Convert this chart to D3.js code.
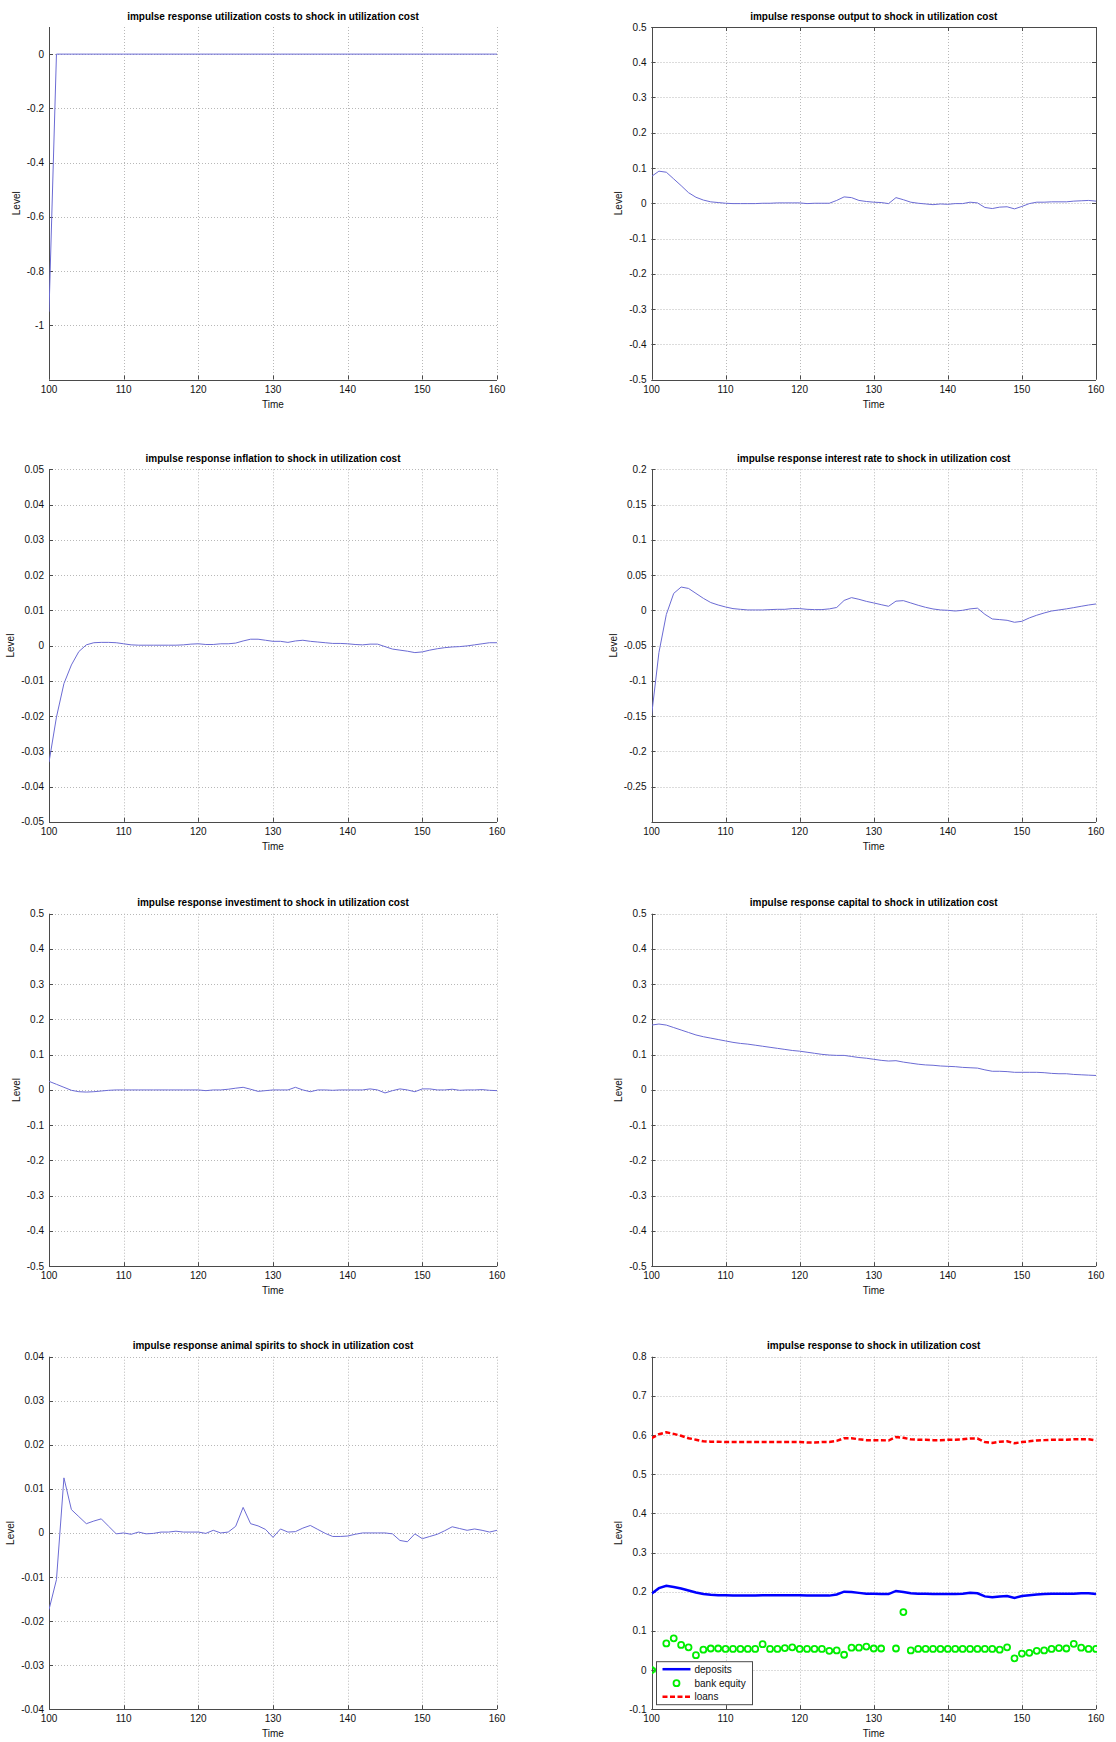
<!DOCTYPE html>
<html>
<head>
<meta charset="utf-8">
<script src="https://cdn.jsdelivr.net/npm/d3@7"></script>
<style>
  html, body { margin: 0; padding: 0; background: #fff; }
  svg { display: block; font-family: "Liberation Sans", Arial, Helvetica, sans-serif; }
</style>
</head>
<body>
<svg id="chart" width="1116" height="1742"></svg>
<script>
// ---------------- DATA ----------------
const time = [100,101,102,103,104,105,106,107,108,109,
  110,111,112,113,114,115,116,117,118,119,
  120,121,122,123,124,125,126,127,128,129,
  130,131,132,133,134,135,136,137,138,139,
  140,141,142,143,144,145,146,147,148,149,
  150,151,152,153,154,155,156,157,158,159,160];

const utilizationCosts = [-0.95,0,0,0,0,0,0,0,0,0,
  0,0,0,0,0,0,0,0,0,0,
  0,0,0,0,0,0,0,0,0,0,
  0,0,0,0,0,0,0,0,0,0,
  0,0,0,0,0,0,0,0,0,0,
  0,0,0,0,0,0,0,0,0,0,0];

const output = [0.076,0.091,0.088,0.069,0.05,0.03,0.017,0.009,0.004,0.002,
  0,-0.001,-0.001,-0.001,-0.001,0,0,0.001,0.001,0.001,
  0.001,-0.001,0,0,0,0.008,0.018,0.016,0.008,0.005,
  0.003,0.002,-0.001,0.016,0.01,0.003,0,-0.002,-0.004,-0.002,
  -0.003,-0.001,-0.001,0.003,0.001,-0.012,-0.015,-0.011,-0.01,-0.016,
  -0.009,-0.001,0.003,0.003,0.004,0.004,0.004,0.006,0.007,0.008,0.006];

const inflation = [-0.0331,-0.0203,-0.0108,-0.0055,-0.0017,0.0002,0.0008,0.0009,0.0009,0.0008,
  0.0005,0.0002,0.0001,0.0001,0.0001,0.0001,0.0001,0.0001,0.0002,0.0004,
  0.0005,0.0003,0.0003,0.0005,0.0005,0.0007,0.0013,0.0018,0.0018,0.0015,
  0.0012,0.0012,0.0009,0.0013,0.0015,0.0012,0.001,0.0008,0.0006,0.0006,
  0.0005,0.0003,0.0002,0.0004,0.0004,-0.0003,-0.001,-0.0013,-0.0016,-0.002,
  -0.0018,-0.0013,-0.0009,-0.0006,-0.0004,-0.0003,-0.0001,0.0002,0.0005,0.0008,0.0008];

const interestRate = [-0.15,-0.06,-0.006,0.024,0.033,0.031,0.024,0.017,0.011,0.0075,
  0.0047,0.0024,0.0014,0.0005,0.0005,0.0005,0.001,0.0014,0.0014,0.0024,
  0.0024,0.0014,0.001,0.001,0.002,0.004,0.014,0.018,0.0156,0.0127,
  0.0104,0.008,0.0057,0.013,0.0137,0.0104,0.0071,0.0042,0.0019,0.0005,
  0,-0.001,0,0.002,0.003,-0.0057,-0.0123,-0.0132,-0.0142,-0.017,
  -0.0156,-0.0108,-0.007,-0.0038,-0.001,0.0005,0.002,0.0038,0.0057,0.0075,0.009];

const investiment = [0.0245,0.016,0.0075,-0.001,-0.005,-0.006,-0.005,-0.003,-0.001,0,
  0,0,0,0,0,0,0,0,0,0,
  0,-0.002,0,0,0.002,0.005,0.0075,0.002,-0.004,-0.002,
  0,0,0,0.0075,0,-0.005,0,0,-0.001,0,
  0,0,0,0.003,0,-0.0085,-0.002,0.003,0,-0.005,
  0.003,0.003,0,0,0.002,-0.001,0,0,0.001,-0.001,-0.002];

const capital = [0.184,0.187,0.184,0.177,0.170,0.163,0.156,0.151,0.147,0.143,
  0.139,0.135,0.132,0.130,0.127,0.124,0.121,0.118,0.115,0.112,
  0.110,0.107,0.104,0.101,0.099,0.098,0.098,0.095,0.092,0.090,
  0.087,0.084,0.082,0.083,0.079,0.076,0.073,0.071,0.070,0.068,
  0.067,0.066,0.064,0.063,0.062,0.057,0.053,0.053,0.052,0.050,
  0.050,0.050,0.050,0.049,0.047,0.046,0.046,0.044,0.043,0.042,0.041];

const animalSpirits = [-0.0174,-0.0106,0.0125,0.0053,0.0037,0.0021,0.0027,0.0032,0.0015,-0.0002,
  0,-0.0003,0.0002,-0.0002,-0.0001,0.0002,0.0002,0.0004,0.0002,0.0002,
  0.0002,-0.0001,0.0006,0,0.0002,0.0015,0.0058,0.0021,0.0016,0.0008,
  -0.001,0.0009,0.0002,0.0003,0.0011,0.0017,0.0008,-0.0001,-0.0008,-0.0008,
  -0.0007,-0.0003,0,0,0,0,-0.0002,-0.0017,-0.002,-0.0002,
  -0.0013,-0.0008,-0.0003,0.0005,0.0014,0.001,0.0006,0.0009,0.0006,0.0002,0.0006];

const deposits = [0.195,0.209,0.215,0.212,0.208,0.203,0.198,0.194,0.192,0.191,
  0.191,0.190,0.190,0.190,0.190,0.191,0.191,0.191,0.191,0.191,
  0.191,0.190,0.190,0.190,0.190,0.193,0.200,0.199,0.197,0.195,
  0.195,0.194,0.194,0.202,0.199,0.196,0.195,0.195,0.194,0.194,
  0.194,0.194,0.195,0.197,0.196,0.188,0.186,0.188,0.189,0.184,
  0.189,0.191,0.193,0.194,0.195,0.195,0.195,0.195,0.196,0.196,0.194];

const bankEquity = [0,0,0.068,0.081,0.064,0.058,0.038,0.052,0.055,0.055,
  0.054,0.054,0.054,0.054,0.054,0.066,0.054,0.054,0.056,0.058,
  0.054,0.054,0.054,0.054,0.049,0.050,0.039,0.057,0.057,0.060,
  0.055,0.055,null,0.055,0.148,0.050,0.054,0.054,0.054,0.054,
  0.054,0.054,0.054,0.054,0.054,0.054,0.054,0.052,0.058,0.030,
  0.042,0.044,0.049,0.050,0.054,0.056,0.055,0.067,0.057,0.054,0.054];

const loans = [0.592,0.602,0.607,0.603,0.598,0.592,0.588,0.584,0.583,0.583,
  0.582,0.582,0.582,0.582,0.582,0.582,0.582,0.582,0.582,0.582,
  0.582,0.581,0.581,0.582,0.582,0.585,0.592,0.592,0.589,0.587,
  0.587,0.587,0.586,0.595,0.593,0.589,0.588,0.588,0.587,0.587,
  0.588,0.588,0.589,0.591,0.591,0.582,0.580,0.583,0.584,0.579,
  0.582,0.584,0.586,0.587,0.588,0.588,0.588,0.589,0.589,0.589,0.586];

const titles = [
  "impulse response utilization costs to shock in utilization cost",
  "impulse response output to shock in utilization cost",
  "impulse response inflation to shock in utilization cost",
  "impulse response interest rate to shock in utilization cost",
  "impulse response investiment to shock in utilization cost",
  "impulse response capital to shock in utilization cost",
  "impulse response animal spirits to shock in utilization cost",
  "impulse response to shock in utilization cost"
];

const xTicks = [100,110,120,130,140,150,160];
const yTicksUtil = [-1,-0.8,-0.6,-0.4,-0.2,0];
const yTicksHalf = [-0.5,-0.4,-0.3,-0.2,-0.1,0,0.1,0.2,0.3,0.4,0.5];
const yTicksInfl = [-0.05,-0.04,-0.03,-0.02,-0.01,0,0.01,0.02,0.03,0.04,0.05];
const yTicksRate = [-0.25,-0.2,-0.15,-0.1,-0.05,0,0.05,0.1,0.15,0.2];
const yTicksAnimal = [-0.04,-0.03,-0.02,-0.01,0,0.01,0.02,0.03,0.04];
const yTicksBank = [-0.1,0,0.1,0.2,0.3,0.4,0.5,0.6,0.7,0.8];

const yDomains = [[-1.2,0.1],[-0.5,0.5],[-0.05,0.05],[-0.3,0.2],[-0.5,0.5],[-0.5,0.5],[-0.04,0.04],[-0.1,0.8]];
const legendLabels = ["deposits","bank equity","loans"];

// ---------------- LAYOUT ----------------
const svg = d3.select("#chart");
svg.append("rect").attr("width",1116).attr("height",1742).attr("fill","#fff");
const defs = svg.append("defs");

const cols = [{left:49, right:497},{left:651.5, right:1096}];
const rowTops = [27, 469.3, 913.7, 1356.7];
const plotH = 352.5;

const panels = [
  {series:[utilizationCosts], ticks:yTicksUtil},
  {series:[output], ticks:yTicksHalf, box:true},
  {series:[inflation], ticks:yTicksInfl},
  {series:[interestRate], ticks:yTicksRate},
  {series:[investiment], ticks:yTicksHalf},
  {series:[capital], ticks:yTicksHalf},
  {series:[animalSpirits], ticks:yTicksAnimal},
  {bank:true, ticks:yTicksBank}
];

const fmt = v => String(+v.toFixed(4));
const axisColor = "#4a4a4a";
const gridColor = "#b8b8b8";
const lineColor = "#6b6bd4";

panels.forEach((p, i) => {
  const col = cols[i % 2];
  const top = rowTops[Math.floor(i / 2)];
  const bottom = top + plotH;
  const x = d3.scaleLinear().domain([100,160]).range([col.left, col.right]);
  const y = d3.scaleLinear().domain(yDomains[i]).range([bottom, top]);
  const g = svg.append("g");
  const cx = (col.left + col.right) / 2;
  const snap = v => Math.round(v) + 0.5;

  defs.append("clipPath").attr("id", "clip" + i).append("rect")
    .attr("x", Math.round(col.left)).attr("y", top - 1)
    .attr("width", col.right - Math.round(col.left) + 1).attr("height", plotH + 2);

  // grid
  const grid = g.append("g").attr("stroke", gridColor).attr("stroke-width",1).attr("stroke-dasharray","1,2");
  p.ticks.forEach(t => {
    if (Math.abs(y(t) - bottom) < 1) return;
    grid.append("line").attr("x1", col.left).attr("x2", col.right)
      .attr("y1", snap(y(t))).attr("y2", snap(y(t)));
  });
  xTicks.forEach(t => {
    if (t === 100) return;
    grid.append("line").attr("x1", snap(x(t))).attr("x2", snap(x(t)))
      .attr("y1", top).attr("y2", bottom);
  });

  // axes
  const ax = g.append("g").attr("stroke", axisColor).attr("stroke-width",1).attr("fill","none");
  ax.append("line").attr("x1", snap(col.left)).attr("x2", snap(col.left)).attr("y1", top).attr("y2", bottom);
  ax.append("line").attr("x1", col.left).attr("x2", col.right).attr("y1", snap(bottom)).attr("y2", snap(bottom));
  if (p.box) {
    ax.append("line").attr("x1", snap(col.right)).attr("x2", snap(col.right)).attr("y1", top).attr("y2", bottom);
    ax.append("line").attr("x1", col.left).attr("x2", col.right).attr("y1", snap(top)).attr("y2", snap(top));
  }
  p.ticks.forEach(t => {
    const yy = snap(y(t));
    ax.append("line").attr("x1", col.left).attr("x2", col.left + 4).attr("y1", yy).attr("y2", yy);
    if (p.box) ax.append("line").attr("x1", col.right - 4).attr("x2", col.right).attr("y1", yy).attr("y2", yy);
  });
  xTicks.forEach(t => {
    const xx = snap(x(t));
    ax.append("line").attr("x1", xx).attr("x2", xx).attr("y1", bottom).attr("y2", bottom - 4);
    if (p.box) ax.append("line").attr("x1", xx).attr("x2", xx).attr("y1", top).attr("y2", top + 4);
  });

  // tick labels
  let maxW = 0;
  p.ticks.forEach(t => {
    const tx = g.append("text").attr("x", col.left - 5).attr("y", y(t)).attr("dy","0.35em")
      .attr("text-anchor","end").attr("font-size",10).attr("fill","#111").text(fmt(t));
    maxW = Math.max(maxW, tx.node().getComputedTextLength());
  });
  xTicks.forEach(t => {
    g.append("text").attr("x", x(t)).attr("y", bottom + 13)
      .attr("text-anchor","middle").attr("font-size",10).attr("fill","#111").text(fmt(t));
  });

  // labels
  g.append("text").attr("x", cx).attr("y", top - 7.5).attr("text-anchor","middle")
    .attr("font-size",10).attr("font-weight","bold").attr("fill","#000").text(titles[i]);
  g.append("text").attr("x", cx).attr("y", bottom + 28).attr("text-anchor","middle")
    .attr("font-size",10).attr("fill","#111").text("Time");
  const lx = col.left - 5 - maxW - 10.5 + 3.5;
  const ly = (top + bottom) / 2;
  g.append("text").attr("transform", `translate(${lx},${ly}) rotate(-90)`).attr("text-anchor","middle")
    .attr("font-size",10).attr("fill","#111").text("Level");

  // data
  const dg = g.append("g").attr("clip-path", `url(#clip${i})`);
  const line = d3.line().defined(d => d[1] !== null).x(d => x(d[0])).y(d => y(d[1]));
  if (!p.bank) {
    p.series.forEach(s => {
      dg.append("path").datum(time.map((t, k) => [t, s[k]]))
        .attr("fill","none").attr("stroke", lineColor).attr("stroke-width",1).attr("d", line);
    });
  } else {
    dg.append("path").datum(time.map((t, k) => [t, deposits[k]]))
      .attr("fill","none").attr("stroke","#0000ff").attr("stroke-width",2.5).attr("d", line);
    dg.append("path").datum(time.map((t, k) => [t, loans[k]]))
      .attr("fill","none").attr("stroke","#ff0000").attr("stroke-width",2.5)
      .attr("stroke-dasharray","5,2.5").attr("d", line);
    dg.append("g").selectAll("circle")
      .data(time.map((t, k) => [t, bankEquity[k]]).filter(d => d[1] !== null))
      .join("circle").attr("cx", d => x(d[0])).attr("cy", d => y(d[1])).attr("r", 3)
      .attr("fill","none").attr("stroke","#00ee00").attr("stroke-width",1.8);

    // legend
    const lgX = col.left + 5, lgY = bottom - 4.5 - 43;
    const lg = g.append("g");
    lg.append("rect").attr("x", lgX).attr("y", lgY).attr("width", 96).attr("height", 43)
      .attr("fill","#fff").attr("stroke", axisColor).attr("stroke-width",1);
    const rows = [lgY + 7.5, lgY + 21.5, lgY + 35];
    lg.append("line").attr("x1", lgX + 6).attr("x2", lgX + 34).attr("y1", rows[0]).attr("y2", rows[0])
      .attr("stroke","#0000ff").attr("stroke-width",2.5);
    lg.append("circle").attr("cx", lgX + 20).attr("cy", rows[1]).attr("r", 3)
      .attr("fill","none").attr("stroke","#00ee00").attr("stroke-width",1.8);
    lg.append("line").attr("x1", lgX + 6).attr("x2", lgX + 34).attr("y1", rows[2]).attr("y2", rows[2])
      .attr("stroke","#ff0000").attr("stroke-width",2.5).attr("stroke-dasharray","5,2.5");
    legendLabels.forEach((lbl, k) => {
      lg.append("text").attr("x", lgX + 38).attr("y", rows[k]).attr("dy","0.35em")
        .attr("font-size",10).attr("fill","#111").text(lbl);
    });
  }
});
</script>
</body>
</html>
